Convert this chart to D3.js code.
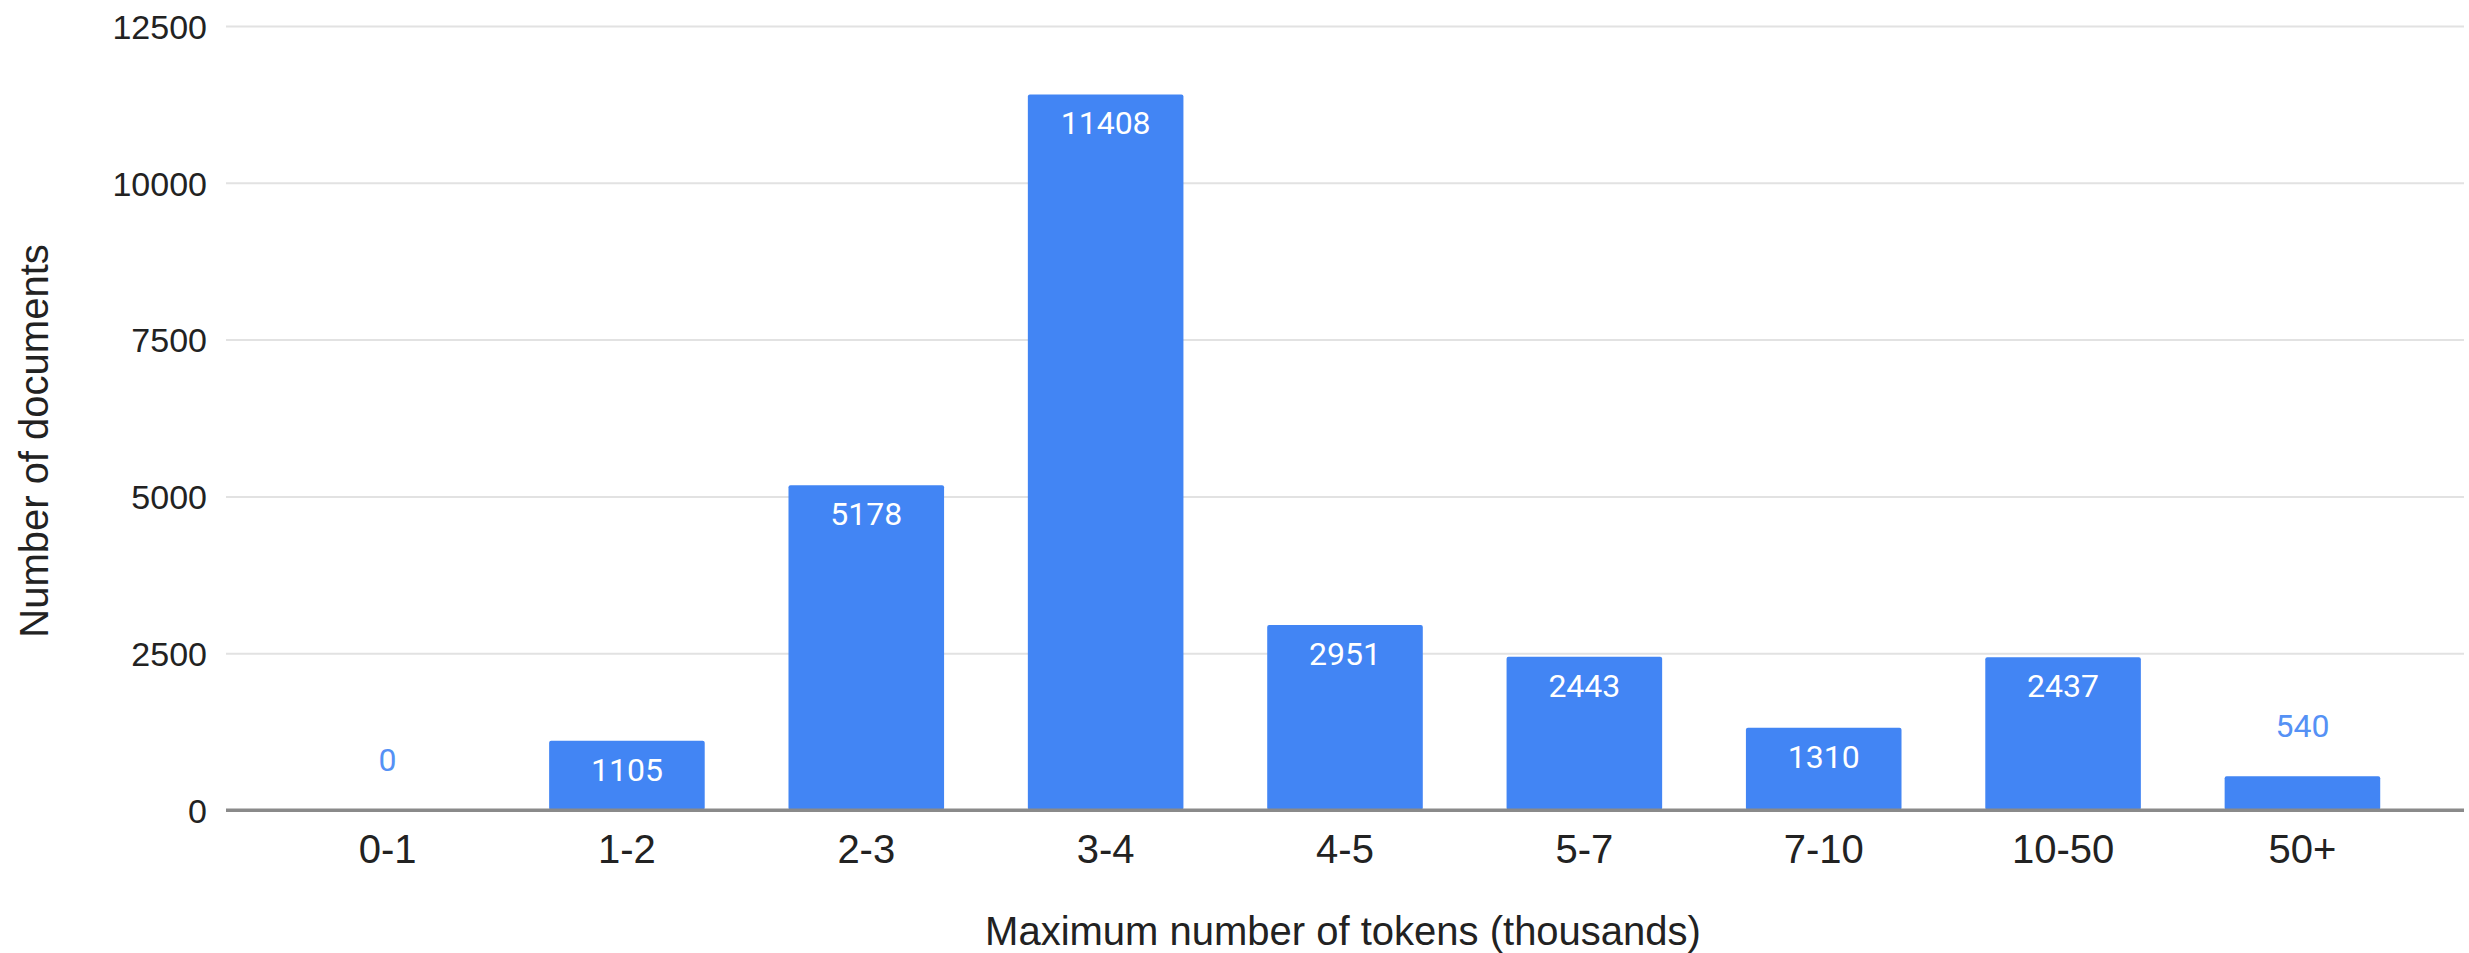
<!DOCTYPE html>
<html lang="en">
<head>
    <meta charset="UTF-8">
    <title>Documents by max tokens</title>
    <script src="https://d3js.org/d3.v7.min.js"></script>
    <style>
        body {margin: 0; background: #fff;}
        text {font-family: "Liberation Sans", Arial, sans-serif; fill: #222;}
        .label {font-family: Roboto, sans-serif; font-size: 32px;}
    </style>
</head>
<body>
<script>
    const width = 2469;
    const height = 953;

    // data
    const categories = ["0-1", "1-2", "2-3", "3-4", "4-5", "5-7", "7-10", "10-50", "50+"];
    const documents  = [0, 1105, 5178, 11408, 2951, 2443, 1310, 2437, 540];
    const yTicks     = [0, 2500, 5000, 7500, 10000, 12500];

    const plot = {left: 226, right: 2464, top: 26, bottom: 810};
    const barColor = "#4285f4";

    const svg = d3.select("body").append("svg")
            .attr("width", width).attr("height", height);

    const x = d3.scaleBand()
            .domain(categories)
            .range([plot.left, plot.right])
            .paddingInner(0.35)
            .paddingOuter(0.35);

    const y = d3.scaleLinear()
            .domain([0, 12500])
            .range([plot.bottom, plot.top]);

    // gridlines + y labels
    const yAxis = svg.append("g")
            .attr("transform", `translate(${plot.left},0)`)
            .call(d3.axisLeft(y)
                    .tickValues(yTicks)
                    .tickFormat(d3.format("d"))
                    .tickSize(-(plot.right - plot.left))
                    .tickPadding(19));
    yAxis.select(".domain").remove();
    yAxis.selectAll(".tick line")
            .attr("stroke", d => d === 0 ? "#8a8a8a" : "#e2e2e2")
            .attr("stroke-width", d => d === 0 ? 3 : 2);
    yAxis.selectAll(".tick text")
            .attr("font-family", "'Liberation Sans', Arial, sans-serif")
            .attr("font-size", 34)
            .attr("fill", "#222")
            .attr("dy", "0.36em");

    // bars
    svg.append("g").selectAll("rect")
            .data(documents)
            .join("rect")
            .attr("x", (d, i) => x(categories[i]))
            .attr("width", x.bandwidth())
            .attr("y", d => y(d))
            .attr("height", d => y(0) - y(d))
            .attr("rx", 2)
            .attr("fill", barColor);

    // redraw baseline on top of bars
    svg.append("line")
            .attr("x1", plot.left).attr("x2", plot.right)
            .attr("y1", y(0)).attr("y2", y(0))
            .attr("stroke", "#8a8a8a").attr("stroke-width", 3);

    // value labels: inside for tall bars, outside for short ones
    svg.append("g").selectAll("text")
            .data(documents)
            .join("text")
            .attr("class", "label")
            .attr("text-anchor", "middle")
            .attr("x", (d, i) => x(categories[i]) + x.bandwidth() / 2)
            .attr("y", d => (y(0) - y(d)) > 50 ? y(d) + 40 : y(d) - 39)
            .style("fill", d => (y(0) - y(d)) > 50 ? "#ffffff" : "#5591f5")
            .text(d => d);

    // x labels
    const xAxis = svg.append("g")
            .attr("transform", `translate(0,${plot.bottom})`)
            .call(d3.axisBottom(x).tickSize(0).tickPadding(25));
    xAxis.select(".domain").remove();
    xAxis.selectAll(".tick text")
            .attr("font-family", "'Liberation Sans', Arial, sans-serif")
            .attr("font-size", 40)
            .attr("fill", "#222")
            .attr("dy", "0.71em");

    // axis titles
    svg.append("text")
            .attr("x", 1343).attr("y", 945)
            .attr("text-anchor", "middle")
            .attr("font-size", 40)
            .text("Maximum number of tokens (thousands)");

    svg.append("text")
            .attr("transform", "translate(48,441) rotate(-90)")
            .attr("text-anchor", "middle")
            .attr("font-size", 40)
            .text("Number of documents");
</script>
</body>
</html>
